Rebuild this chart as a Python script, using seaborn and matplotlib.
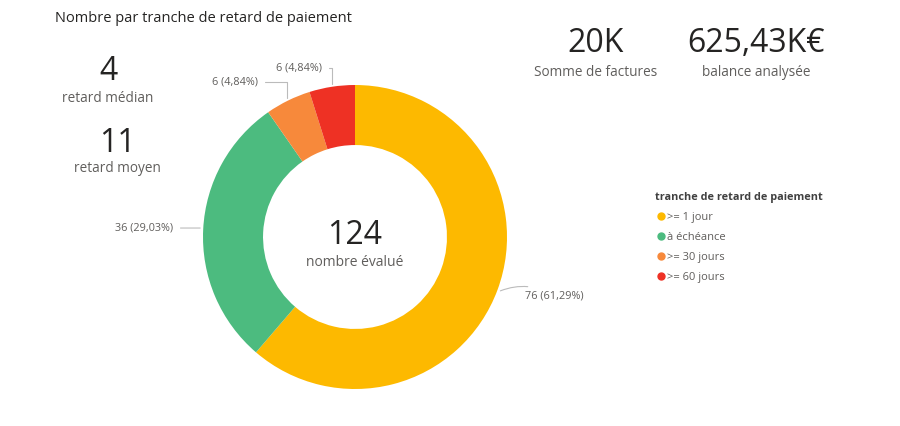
import numpy as np
import seaborn as sns
import matplotlib.pyplot as plt
from matplotlib.lines import Line2D

sns.set_style('white')
plt.rcParams['font.family'] = ['Open Sans', 'DejaVu Sans']

categories = ['>= 1 jour', 'à échéance', '>= 30 jours', '>= 60 jours']
counts = [76, 36, 6, 6]
colors = ['#FDB900', '#4CBB7F', '#F7893B', '#EE3124']
label_texts = ['76 (61,29%)', '36 (29,03%)', '6 (4,84%)', '6 (4,84%)']

kpi_values = ['4', '11', '20K', '625,43K€']
kpi_labels = ['retard médian', 'retard moyen', 'Somme de factures', 'balance analysée']
total_value = '124'
total_label = 'nombre évalué'

dark = '#252423'
grey = '#605E5C'

fig = plt.figure(figsize=(9, 4.26), dpi=100)

# donut axes: 400x400 px box centred on the donut, radius 1 = 152 px
ax = fig.add_axes([155 / 900, (426 - 237 - 200) / 426, 400 / 900, 400 / 426])
wedges, _ = ax.pie(counts, colors=colors, startangle=90, counterclock=False,
                   radius=1.0, wedgeprops=dict(width=0.395, linewidth=0))
lim = 200 / 152
ax.set_xlim(-lim, lim)
ax.set_ylim(-lim, lim)
ax.set_aspect('equal')
ax.axis('off')

# data labels with leader lines (text anchor, alignment, connection)
label_pos = [((1.118, -0.388), 'left', 'arc3,rad=0.25'),
             ((-1.197, 0.059), 'right', 'arc3'),
             ((-0.64, 1.02), 'right', 'angle,angleA=0,angleB=90,rad=0'),
             ((-0.22, 1.112), 'right', 'angle,angleA=0,angleB=90,rad=0')]
for w, txt, (tpos, ha, cs) in zip(wedges, label_texts, label_pos):
    ang = np.deg2rad((w.theta1 + w.theta2) / 2)
    px, py = 1.02 * np.cos(ang), 1.02 * np.sin(ang)
    if cs == 'arc3':
        py = tpos[1]
    ax.annotate(txt, xy=(px, py), xytext=tpos, ha=ha, va='center',
                fontsize=7.8, color=grey,
                arrowprops=dict(arrowstyle='-', color='#BBBBBB', lw=0.8,
                                connectionstyle=cs, shrinkA=3, shrinkB=0))

ax.text(0, 0.013, total_value, ha='center', va='center', fontsize=23, color=dark)
ax.text(0, -0.165, total_label, ha='center', va='center', fontsize=10, color=grey)

fig.text(55 / 900, 1 - 18 / 426, 'Nombre par tranche de retard de paiement',
         ha='left', va='center', fontsize=10.5, color=dark)

kpi_pos = [(108, 71, 98), (117, 143, 169), (596, 43, 72), (756, 43, 72)]
for v, lab, (x, yv, yl) in zip(kpi_values, kpi_labels, kpi_pos):
    fig.text(x / 900, 1 - yv / 426, v, ha='center', va='center', fontsize=23, color=dark)
    fig.text(x / 900, 1 - yl / 426, lab, ha='center', va='center', fontsize=9.8, color=grey)

handles = [Line2D([0], [0], marker='o', linestyle='', markersize=5,
                  markerfacecolor=c, markeredgecolor=c) for c in colors]
leg = fig.legend(handles, categories, title='tranche de retard de paiement',
                 loc='upper left', bbox_to_anchor=(645 / 900, 1 - 182 / 426),
                 frameon=False, fontsize=8, title_fontsize=7.8,
                 handletextpad=0.1, handlelength=1.0, labelspacing=0.8,
                 alignment='left', labelcolor=grey)
leg.get_title().set_fontweight('bold')
leg.get_title().set_color('#404040')

fig.savefig('out.png', dpi=100, facecolor='white')
